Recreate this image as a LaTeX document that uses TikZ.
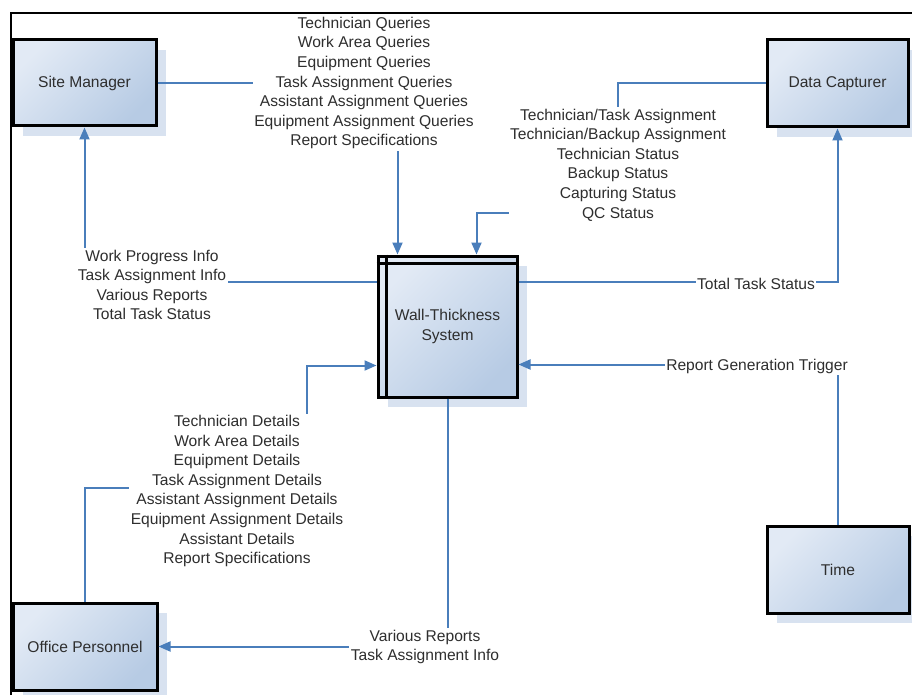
\documentclass[tikz,border=0pt]{standalone}
\usepackage{fontspec}
\setmainfont{Liberation Sans}
\usetikzlibrary{arrows.meta,calc,shadows}
\definecolor{flowblue}{HTML}{4A7EBB}
\definecolor{boxlight}{HTML}{E2EAF5}
\definecolor{boxdark}{HTML}{B7CBE4}
\definecolor{shadowblue}{HTML}{D8E2F0}
\definecolor{txt}{HTML}{2E2E2E}
\begin{document}
\begin{tikzpicture}[x=1pt,y=-1pt,
  entity/.style={draw=black, line width=3pt, top color=boxlight, bottom color=boxdark,
    shading angle=45,
    general shadow={fill=shadowblue, shadow xshift=10pt, shadow yshift=-10pt},
    font=\fontsize{15.6}{19.6}\selectfont, text=txt, align=center, inner sep=0pt},
  flow/.style={draw=flowblue, line width=2pt, -{Triangle[length=12pt,width=10pt]}},
  flowlabel/.style={fill=white, inner sep=1.5pt, align=center, text=txt,
    font=\fontsize{15.6}{19.6}\selectfont},
  frame/.style={draw=black, line width=2.5pt},
  strip/.style={draw=black, line width=3pt},
]
\useasboundingbox (0,0) rectangle (912,695);

% external entities and the process
\node[entity, minimum width=143pt, minimum height=86pt] (sm) at (84.5,83) {Site Manager};
\node[entity, minimum width=141pt, minimum height=87pt] (dc) at (837.5,83.5) {Data Capturer};
\node[entity, minimum width=142pt, minimum height=87pt] (tm) at (838,569.5) {Time};
\node[entity, minimum width=144pt, minimum height=87pt] (op) at (85,646.5) {Office Personnel};
\node[entity, minimum width=139pt, minimum height=141pt] (sys) at (447.5,326.5) {Wall-Thickness\\System};
\draw[strip] ($(sys.north west)+(10,0)$) -- ($(sys.south west)+(10,0)$);
\draw[strip] ($(sys.north west)+(0,9)$) -- ($(sys.north east)+(0,9)$);

% connection points on the process box
\coordinate (sysin1) at ($(sys.north west)+(21,0)$);
\coordinate (sysin2) at ($(sys.north west)+(100,0)$);
\coordinate (sysoutl) at ($(sys.north west)+(0,27)$);
\coordinate (sysoutr) at ($(sys.north east)+(0,27)$);
\coordinate (sysinr) at ($(sys.north east)+(0,110)$);
\coordinate (sysinl) at ($(sys.north west)+(0,111)$);
\coordinate (dcturn) at (618,213);
\coordinate (opturn) at (307,488);

% data flows
\draw[flow] (sm.east) -| (sysin1);
\draw[flow] (dc.west) -| (dcturn) -| (sysin2);
\draw[flow] (sysoutl) -| (sm.south);
\draw[flow] (sysoutr) -| (dc.south);
\draw[flow] (tm.north) |- (sysinr);
\draw[flow] (op.north) |- (opturn) |- (sysinl);
\draw[flow] (sys.south) |- (op.east);

% flow labels
\node[flowlabel] (qlbl) at (364,83) {Technician Queries\\Work Area Queries\\Equipment Queries\\Task Assignment Queries\\Assistant Assignment Queries\\Equipment Assignment Queries\\Report Specifications};
\node[flowlabel] (dlbl) at (618,165) {Technician/Task Assignment\\Technician/Backup Assignment\\Technician Status\\Backup Status\\Capturing Status\\QC Status};
\node[flowlabel] (wlbl) at (152,285) {Work Progress Info\\Task Assignment Info\\Various Reports\\Total Task Status};
\node[flowlabel] (tlbl) at (756,284) {Total Task Status};
\node[flowlabel] (rlbl) at (757,366) {Report Generation Trigger};
\node[flowlabel] (olbl) at (237,491) {Technician Details\\Work Area Details\\Equipment Details\\Task Assignment Details\\Assistant Assignment Details\\Equipment Assignment Details\\Assistant Details\\Report Specifications};
\node[flowlabel] (vlbl) at (425,647) {Various Reports\\Task Assignment Info};

% page frame
\draw[frame] (11,695) -- (11,13) -- (912,13);
\end{tikzpicture}
\end{document}
